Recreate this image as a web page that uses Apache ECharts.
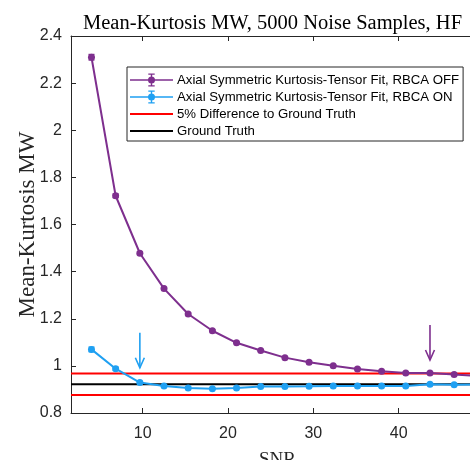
<!DOCTYPE html>
<html>
<head>
<meta charset="utf-8">
<script src="https://cdn.jsdelivr.net/npm/echarts@6/dist/echarts.min.js"></script>
<style>
  html, body { margin: 0; padding: 0; background: #fff; overflow: hidden; }
  #chart { width: 500px; height: 460px; }
</style>
</head>
<body>
<div id="chart"></div>
<script>
// SNR sampling positions
const snr = [4, 6.83, 9.67, 12.5, 15.33, 18.17, 21, 23.83, 26.67, 29.5, 32.33, 35.17, 38, 40.83, 43.67, 46.5, 49.33];
// Mean kurtosis, axial symmetric kurtosis-tensor fit without / with RBCA
const kurtOff = [2.31, 1.722, 1.478, 1.328, 1.220, 1.149, 1.098, 1.065, 1.035, 1.015, 1.001, 0.987, 0.977, 0.970, 0.970, 0.963, 0.957];
const kurtOn  = [1.070, 0.988, 0.929, 0.915, 0.906, 0.903, 0.906, 0.912, 0.912, 0.913, 0.915, 0.915, 0.915, 0.915, 0.922, 0.920, 0.921];
// Standard deviations (half error-bar heights)
const errOff = [0.012, 0.008, 0.006, 0.005, 0.004, 0.004, 0.003, 0.003, 0.003, 0.003, 0.003, 0.003, 0.003, 0.003, 0.003, 0.003, 0.003];
const errOn  = [0.010, 0.007, 0.005, 0.004, 0.004, 0.003, 0.003, 0.003, 0.003, 0.003, 0.003, 0.003, 0.003, 0.003, 0.003, 0.003, 0.003];
// Ground truth and its ±5% band
const groundTruth = 0.922;
const bandLimits = [0.876, 0.968];
// Convergence arrows: [snr, start value, tip value]
const arrowOn  = [9.67, 1.141, 0.992];
const arrowOff = [43.67, 1.173, 1.025];
// Axis ticks
const xTicks = [10, 20, 30, 40, 50];
const xRange = [1.6, 50];
const yRange = [0.8, 2.4];

const names = [
  'Axial Symmetric Kurtosis-Tensor Fit, RBCA OFF',
  'Axial Symmetric Kurtosis-Tensor Fit, RBCA ON',
  '5% Difference to Ground Truth',
  'Ground Truth'
];
const PURPLE = '#7E2F8E';
const BLUE = '#1FA0F2';

// legend glyphs: line with an error bar and a dot
const errIcon = 'path://M0,6.3H43V7.7H0Z M20.8,1.2H22.2V12.8H20.8Z M18.3,0.6H24.7V1.8H18.3Z M18.3,12.2H24.7V13.4H18.3Z M25,7A3.5,3.5 0 1 1 18,7A3.5,3.5 0 1 1 25,7Z M0,0H0.01V0.01Z M0,14H0.01V13.99Z';
const lineIcon = 'path://M0,6H43V8H0Z M0,0H0.01V0.01Z M0,14H0.01V13.99Z';

function pairs(xs, ys) { return xs.map((x, i) => [x, ys[i]]); }

function xsWithErr(ys, errs) {
  return snr.map((x, i) => [x, ys[i] - errs[i], ys[i] + errs[i]]);
}

function errorBarSeries(name, ys, errs, color) {
  return {
    type: 'custom',
    name: name + ' err',
    silent: true,
    z: 4,
    data: xsWithErr(ys, errs),
    renderItem: function (params, api) {
      const x = api.value(0);
      const lo = api.coord([x, api.value(1)]);
      const hi = api.coord([x, api.value(2)]);
      const w = 3;
      const style = { stroke: color, lineWidth: 1.2, fill: null };
      return {
        type: 'group',
        children: [
          { type: 'line', shape: { x1: lo[0], y1: lo[1], x2: hi[0], y2: hi[1] }, style },
          { type: 'line', shape: { x1: lo[0] - w, y1: lo[1], x2: lo[0] + w, y2: lo[1] }, style },
          { type: 'line', shape: { x1: hi[0] - w, y1: hi[1], x2: hi[0] + w, y2: hi[1] }, style }
        ]
      };
    }
  };
}

function arrowSeries(arrow, color) {
  return {
    type: 'custom',
    name: 'arrow',
    silent: true,
    z: 6,
    data: [arrow],
    renderItem: function (params, api) {
      const p0 = api.coord([api.value(0), api.value(1)]);
      const p1 = api.coord([api.value(0), api.value(2)]);
      const style = { stroke: color, lineWidth: 1.6, fill: null };
      return {
        type: 'group',
        children: [
          { type: 'line', shape: { x1: p0[0], y1: p0[1], x2: p1[0], y2: p1[1] }, style },
          { type: 'polyline', shape: { points: [[p1[0] - 4.5, p1[1] - 10], [p1[0], p1[1]], [p1[0] + 4.5, p1[1] - 10]] }, style }
        ]
      };
    }
  };
}

const chart = echarts.init(document.getElementById('chart'), null, { renderer: 'canvas' });

const axisTextColor = '#262626';
const sans = '"Liberation Sans", Arial, sans-serif';
const serif = '"Liberation Serif", "Times New Roman", serif';

chart.setOption({
  animation: false,
  backgroundColor: '#fff',
  title: {
    text: 'Mean-Kurtosis MW, 5000 Noise Samples, HF',
    left: 78,
    top: 8,
    textStyle: { fontFamily: serif, fontSize: 20.5, fontWeight: 'normal', color: '#000' }
  },
  legend: {
    orient: 'vertical',
    left: 127,
    top: 67,
    padding: [6, 4, 3, 3],
    itemWidth: 43,
    itemHeight: 14,
    itemGap: 3,
    borderColor: '#262626',
    borderWidth: 1,
    borderRadius: 0,
    backgroundColor: '#fff',
    textStyle: { fontFamily: sans, fontSize: 13.2, color: '#000', padding: [0, 0, 0, -1] },
    selectedMode: false,
    data: [
      { name: names[0], icon: errIcon, itemStyle: { color: PURPLE } },
      { name: names[1], icon: errIcon, itemStyle: { color: BLUE } },
      { name: names[2], icon: lineIcon, itemStyle: { color: '#FF0000' } },
      { name: names[3], icon: lineIcon, itemStyle: { color: '#000' } }
    ]
  },
  grid: { left: 71, top: 36, width: 413, height: 377, containLabel: false, outerBoundsMode: 'none' },
  xAxis: [
    {
      type: 'value',
      position: 'bottom',
      min: xRange[0],
      max: xRange[1],
      name: 'SNR',
      nameLocation: 'middle',
      nameGap: 38,
      nameTextStyle: { fontFamily: serif, fontSize: 19, color: axisTextColor },
      axisLine: { show: true, lineStyle: { color: axisTextColor, width: 1 } },
      axisTick: { show: true, inside: true, length: 5, customValues: xTicks, lineStyle: { color: axisTextColor } },
      axisLabel: { show: true, customValues: xTicks, margin: 13, fontFamily: sans, fontSize: 16, color: axisTextColor },
      splitLine: { show: false }
    },
    {
      type: 'value',
      position: 'top',
      min: xRange[0],
      max: xRange[1],
      axisLine: { show: true, lineStyle: { color: axisTextColor, width: 1 } },
      axisTick: { show: true, inside: true, length: 5, customValues: xTicks, lineStyle: { color: axisTextColor } },
      axisLabel: { show: false },
      splitLine: { show: false }
    }
  ],
  yAxis: [
    {
      type: 'value',
      min: yRange[0],
      max: yRange[1],
      interval: 0.2,
      name: 'Mean-Kurtosis MW',
      nameLocation: 'middle',
      nameRotate: 90,
      nameGap: 32,
      nameMoveOverlap: false,
      nameTextStyle: { fontFamily: serif, fontSize: 23, color: axisTextColor },
      axisLine: { show: true, lineStyle: { color: axisTextColor, width: 1 } },
      axisTick: { show: true, inside: true, length: 5, lineStyle: { color: axisTextColor } },
      axisLabel: {
        margin: 9, fontFamily: sans, fontSize: 16, color: axisTextColor,
        formatter: v => String(Math.round(v * 10) / 10)
      },
      splitLine: { show: false }
    }
  ],
  series: [
    {
      type: 'line',
      name: names[2],
      data: [[xRange[0], bandLimits[1]], [xRange[1], bandLimits[1]]],
      symbol: 'none',
      lineStyle: { color: '#FF0000', width: 2 },
      itemStyle: { color: '#FF0000' },
      z: 2,
      silent: true
    },
    {
      type: 'line',
      name: names[2] + ' low',
      data: [[xRange[0], bandLimits[0]], [xRange[1], bandLimits[0]]],
      symbol: 'none',
      lineStyle: { color: '#FF0000', width: 2 },
      z: 2,
      silent: true
    },
    {
      type: 'line',
      name: names[3],
      data: [[xRange[0], groundTruth], [xRange[1], groundTruth]],
      symbol: 'none',
      lineStyle: { color: '#000', width: 2 },
      itemStyle: { color: '#000' },
      z: 2,
      silent: true
    },
    {
      type: 'line',
      name: names[0],
      data: pairs(snr, kurtOff),
      symbol: 'circle',
      symbolSize: 7,
      showSymbol: true,
      lineStyle: { color: PURPLE, width: 2 },
      itemStyle: { color: PURPLE },
      z: 5
    },
    errorBarSeries(names[0], kurtOff, errOff, PURPLE),
    {
      type: 'line',
      name: names[1],
      data: pairs(snr, kurtOn),
      symbol: 'circle',
      symbolSize: 7,
      showSymbol: true,
      lineStyle: { color: BLUE, width: 2 },
      itemStyle: { color: BLUE },
      z: 5
    },
    errorBarSeries(names[1], kurtOn, errOn, BLUE),
    arrowSeries(arrowOn, BLUE),
    arrowSeries(arrowOff, PURPLE)
  ]
});
</script>
</body>
</html>
